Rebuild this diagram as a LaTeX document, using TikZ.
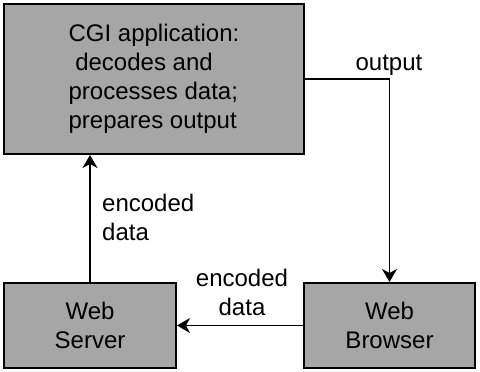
\documentclass[tikz,border=0pt]{standalone}
\usepackage{fontspec}
\setmainfont{Liberation Sans}
\usetikzlibrary{arrows.meta,positioning}
\definecolor{boxgrey}{RGB}{166,166,166}

\begin{document}
\begin{tikzpicture}[x=1pt,y=-1pt,
    block/.style={draw, line width=2pt, fill=boxgrey, inner sep=0pt, align=center, font=\fontsize{24}{29}\selectfont},
    flow/.style={line width=1.5pt, -{Stealth[length=13pt,width=15pt,inset=4pt]}},
    lbl/.style={inner sep=0pt, font=\fontsize{24}{29}\selectfont}]
    \useasboundingbox (0,0) rectangle (480,372);
    % boxes
    \node[block, minimum width=300pt, minimum height=150pt, align=left] (cgi) at (154,79) {CGI application:\\\ decodes and\\processes data;\\prepares output};
    \node[block, minimum width=172pt, minimum height=85pt] (server) at (90,325.5) {Web\\Server};
    \node[block, minimum width=171pt, minimum height=85pt] (browser) at (389.5,325.5) {Web\\Browser};
    % connectors
    \draw[flow] (cgi.east) -| (browser.north);
    \node[lbl] (outlbl) at (389,65) {output};
    \draw[flow] (server.north) -- (server.north |- cgi.south);
    \node[lbl, anchor=west, align=left] (uplbl) at (102,217.5) {encoded\\data};
    \draw[flow] (browser.west) -- (server.east);
    \node[lbl, align=center] (leftlbl) at (242,292.5) {encoded\\data};
\end{tikzpicture}
\end{document}
